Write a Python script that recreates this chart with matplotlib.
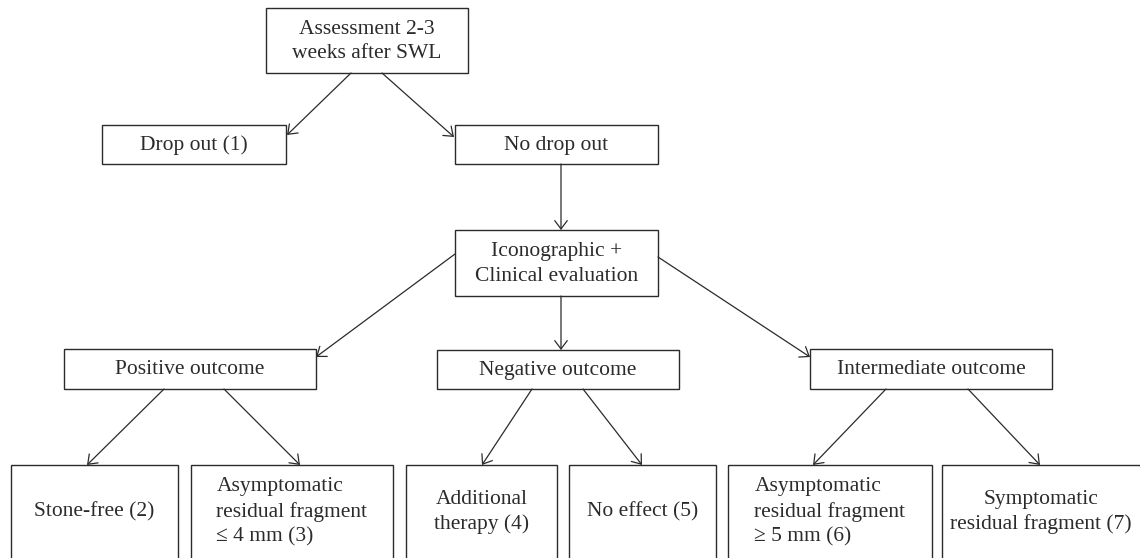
import matplotlib.pyplot as plt
from matplotlib.patches import Rectangle, FancyArrowPatch

# node labels
labels = {
    'start': 'Assessment 2-3\nweeks after SWL',
    'drop': 'Drop out (1)',
    'nodrop': 'No drop out',
    'eval': 'Iconographic +\nClinical evaluation',
    'pos': 'Positive outcome',
    'neg': 'Negative outcome',
    'inter': 'Intermediate outcome',
    'free': 'Stone-free (2)',
    'asym4': 'Asymptomatic\nresidual fragment\n\u2264 4 mm (3)',
    'add': 'Additional\ntherapy (4)',
    'noeff': 'No effect (5)',
    'asym5': 'Asymptomatic\nresidual fragment\n\u2265 5 mm (6)',
    'sympt': 'Symptomatic\nresidual fragment (7)',
}
left_aligned = ['asym4', 'asym5']

# which node points to which
edges = [('start', 'drop'), ('start', 'nodrop'), ('nodrop', 'eval'),
         ('eval', 'pos'), ('eval', 'neg'), ('eval', 'inter'),
         ('pos', 'free'), ('pos', 'asym4'), ('neg', 'add'), ('neg', 'noeff'),
         ('inter', 'asym5'), ('inter', 'sympt')]

# layout in pixels: x0, x1, y0, y1 (y down)
boxes = {
    'start': (266, 468, 8, 73),
    'drop': (102, 286, 125, 164),
    'nodrop': (455, 658, 125, 164),
    'eval': (455, 658, 230, 296),
    'pos': (64, 316, 349, 389),
    'neg': (437, 679, 350, 389),
    'inter': (810, 1052, 349, 389),
    'free': (11, 178, 465, 562),
    'asym4': (191, 393, 465, 562),
    'add': (406, 557, 465, 562),
    'noeff': (569, 716, 465, 562),
    'asym5': (728, 932, 465, 562),
    'sympt': (942, 1150, 465, 562),
}
# arrow start / end points
arrow_pts = {
    ('start', 'drop'): ((351, 73), (287, 135)),
    ('start', 'nodrop'): ((382, 73), (454, 137)),
    ('nodrop', 'eval'): ((561, 164), (561, 230)),
    ('eval', 'pos'): ((455, 254), (316, 357)),
    ('eval', 'neg'): ((561, 296), (561, 350)),
    ('eval', 'inter'): ((658, 257), (810, 357)),
    ('pos', 'free'): ((164, 389), (87, 465)),
    ('pos', 'asym4'): ((224, 389), (300, 465)),
    ('neg', 'add'): ((532, 389), (482, 465)),
    ('neg', 'noeff'): ((583, 389), (642, 465)),
    ('inter', 'asym5'): ((886, 389), (813, 465)),
    ('inter', 'sympt'): ((968, 389), (1040, 465)),
}

col = '#2b2b2b'
fig = plt.figure(figsize=(11.4, 5.58), dpi=100)
ax = fig.add_axes([0, 0, 1, 1])
ax.set_xlim(0, 1140)
ax.set_ylim(558, 0)
ax.axis('off')

for key, (x0, x1, y0, y1) in boxes.items():
    ax.add_patch(Rectangle((x0, y0), x1 - x0, y1 - y0, fill=False,
                           edgecolor=col, linewidth=1.0))
    cy = (y0 + y1) / 2 if y1 < 500 else 511
    cx = (x0 + x1) / 2 if key != 'sympt' else 1041
    ax.text(cx, cy + 1, labels[key], ha='center', va='center',
            multialignment='left' if key in left_aligned else 'center',
            family=['Liberation Serif', 'DejaVu Serif'], fontsize=15.5,
            color=col, linespacing=1.38)

for e in edges:
    a, b = arrow_pts[e]
    ax.add_patch(FancyArrowPatch(a, b, arrowstyle='->,head_length=0.6,head_width=0.45',
                                 mutation_scale=10, shrinkA=0, shrinkB=0,
                                 color=col, linewidth=0.9))

fig.savefig('out.png', dpi=100)
